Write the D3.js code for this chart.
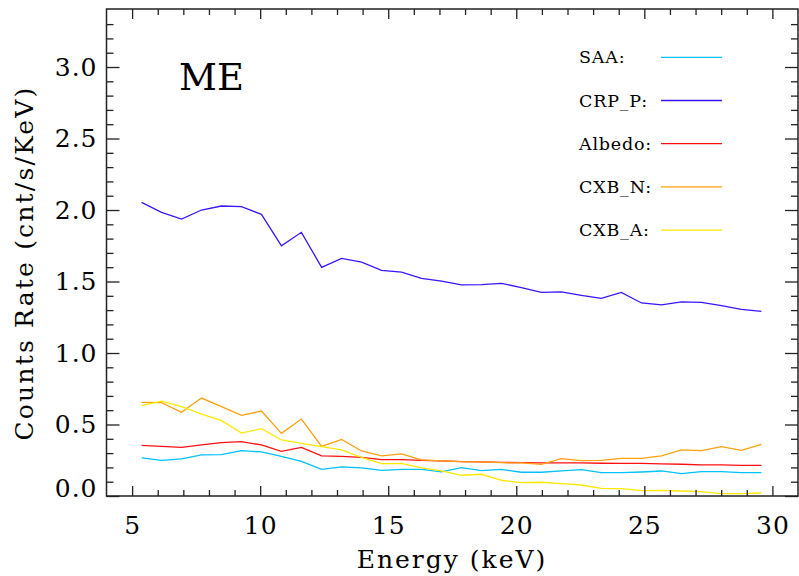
<!DOCTYPE html>
<html>
<head>
<meta charset="utf-8">
<script src="https://cdn.jsdelivr.net/npm/d3@7"></script>
<style>
html,body{margin:0;padding:0;background:#fff;}
svg{display:block;}
text{font-family:"DejaVu Serif",serif;fill:#000;}
</style>
</head>
<body>
<svg id="chart" width="799" height="576"></svg>
<script>
const energy = [5.37,6.15,6.93,7.71,8.49,9.27,10.05,10.83,11.61,12.40,13.18,13.96,14.74,15.52,16.30,17.08,17.86,18.64,19.42,20.20,20.98,21.76,22.54,23.32,24.10,24.89,25.67,26.45,27.23,28.01,28.79,29.57];
const saa = [0.266,0.249,0.259,0.287,0.289,0.317,0.308,0.277,0.242,0.186,0.203,0.196,0.179,0.186,0.186,0.169,0.198,0.177,0.186,0.166,0.166,0.175,0.184,0.163,0.163,0.168,0.175,0.156,0.170,0.170,0.163,0.163];
const crpP = [2.053,1.984,1.937,2.000,2.028,2.023,1.970,1.750,1.844,1.599,1.662,1.636,1.578,1.566,1.522,1.503,1.476,1.478,1.487,1.457,1.424,1.427,1.403,1.382,1.424,1.350,1.336,1.357,1.354,1.331,1.305,1.291];
const albedo = [0.354,0.347,0.340,0.357,0.373,0.380,0.357,0.312,0.340,0.280,0.277,0.270,0.254,0.254,0.249,0.246,0.240,0.238,0.235,0.233,0.231,0.231,0.231,0.229,0.228,0.228,0.224,0.222,0.217,0.217,0.214,0.214];
const cxbN = [0.655,0.653,0.585,0.685,0.625,0.564,0.594,0.438,0.538,0.347,0.396,0.315,0.280,0.294,0.252,0.246,0.240,0.238,0.233,0.231,0.221,0.261,0.247,0.249,0.263,0.263,0.280,0.322,0.317,0.345,0.319,0.361];
const cxbA = [0.632,0.664,0.625,0.573,0.527,0.440,0.471,0.392,0.368,0.345,0.322,0.270,0.226,0.228,0.196,0.176,0.145,0.152,0.110,0.093,0.096,0.086,0.077,0.054,0.051,0.037,0.040,0.035,0.030,0.016,0.016,0.021];
const seriesNames = ["SAA:","CRP_P:","Albedo:","CXB_N:","CXB_A:"];
const seriesColors = ["#00c0ff","#3c14ff","#ff1010","#ffa010","#ffe800"];
const seriesValues = [saa, crpP, albedo, cxbN, cxbA];
const xTicks = [5,10,15,20,25,30];
const yTicks = [0.0,0.5,1.0,1.5,2.0,2.5,3.0];
const panelLabel = "ME";
const xTitle = "Energy (keV)";
const yTitle = "Counts Rate (cnt/s/KeV)";

const svg = d3.select("#chart");
const L = 106.5, R = 798, T = 9, B = 496;
const x = d3.scaleLinear().domain([4, 31]).range([L, R]);
const y = d3.scaleLinear().domain([0, 3.4057]).range([B, T]);

// lines
const line = d3.line().x((d,i)=>x(energy[i])).y(d=>y(d));
seriesValues.forEach((vals,k)=>{
  svg.append("path").datum(vals).attr("d", line)
    .attr("fill","none").attr("stroke", seriesColors[k]).attr("stroke-width",1.3);
});

// axes
const axisColor = "#222";
const xMinor = d3.range(5, 31, 1).filter(v=>v%5!==0);
const yMinor = d3.range(1, 34).map(v=>v/10).filter(v=>Math.round(v*10)%5!==0);

function styleAxis(g){
  g.select(".domain").remove();
  g.selectAll(".tick line").attr("stroke",axisColor).attr("stroke-width",1.3);
}
function styleText(g){
  g.selectAll("text").attr("font-size",25).attr("font-family","DejaVu Serif")
    .attr("fill","#000").attr("letter-spacing","1px");
}
// bottom
svg.append("g").attr("transform",`translate(0,${B})`)
  .call(d3.axisBottom(x).tickValues(xTicks).tickSize(-10).tickPadding(20).tickFormat(d3.format("d")))
  .call(styleAxis).call(styleText);
svg.append("g").attr("transform",`translate(0,${B})`)
  .call(d3.axisBottom(x).tickValues(xMinor).tickSize(-6).tickFormat(""))
  .call(styleAxis);
// top
svg.append("g").attr("transform",`translate(0,${T})`)
  .call(d3.axisTop(x).tickValues(xTicks).tickSize(-10).tickFormat(""))
  .call(styleAxis);
svg.append("g").attr("transform",`translate(0,${T})`)
  .call(d3.axisTop(x).tickValues(xMinor).tickSize(-6).tickFormat(""))
  .call(styleAxis);
// left
svg.append("g").attr("transform",`translate(${L},0)`)
  .call(d3.axisLeft(y).tickValues(yTicks).tickSize(-13).tickPadding(9).tickFormat(d3.format(".1f")))
  .call(styleAxis).call(styleText)
  .call(g=>g.selectAll(".tick").filter(d=>d===0).select("text").attr("dy","0.0em"));
svg.append("g").attr("transform",`translate(${L},0)`)
  .call(d3.axisLeft(y).tickValues(yMinor).tickSize(-7).tickFormat(""))
  .call(styleAxis);
// right
svg.append("g").attr("transform",`translate(${R},0)`)
  .call(d3.axisRight(y).tickValues(yTicks).tickSize(-13).tickFormat(""))
  .call(styleAxis);
svg.append("g").attr("transform",`translate(${R},0)`)
  .call(d3.axisRight(y).tickValues(yMinor).tickSize(-7).tickFormat(""))
  .call(styleAxis);

// frame
svg.append("rect").attr("x",L).attr("y",T).attr("width",R-L).attr("height",B-T)
  .attr("fill","none").attr("stroke",axisColor).attr("stroke-width",1.5);

// titles
svg.append("text").attr("x", 452).attr("y", 568)
  .attr("text-anchor","middle").attr("font-size",25).attr("letter-spacing","2px").text(xTitle);
svg.append("text").attr("transform","translate(33,263) rotate(-90)")
  .attr("text-anchor","middle").attr("font-size",25).attr("letter-spacing","2.2px").text(yTitle);

// panel label
svg.append("text").attr("x",179).attr("y",90).attr("font-size",37).text(panelLabel);

// legend
seriesNames.forEach((n,k)=>{
  const ly = 57.3 + k*43.2;
  svg.append("text").attr("x",579).attr("y",ly).attr("dy","0.35em")
    .attr("font-size",17.5).attr("letter-spacing","0.8px").text(n);
  svg.append("line").attr("x1",661).attr("x2",722).attr("y1",ly).attr("y2",ly)
    .attr("stroke",seriesColors[k]).attr("stroke-width",1.3);
});
</script>
</body>
</html>
